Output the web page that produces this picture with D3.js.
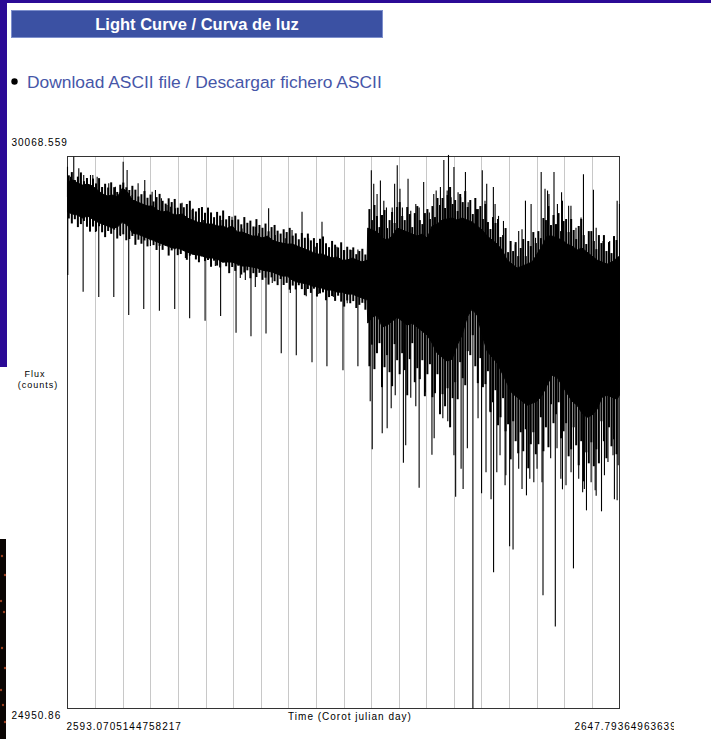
<!DOCTYPE html>
<html>
<head>
<meta charset="utf-8">
<script src="https://cdn.jsdelivr.net/npm/d3@7"></script>
<style>
  html, body { margin: 0; padding: 0; background: #fff; }
  svg { display: block; }
</style>
</head>
<body>
<svg id="chart" width="711" height="739"></svg>
<script>
// ---------------- DATA ----------------
const timeStart = 2593.0705144758217;
const timeEnd = 2647.793649636396;
const fluxMin = 24950.86;
const fluxMax = 30068.559;
const timeStartLabel = "2593.0705144758217";
const timeEndLabel = "2647.793649636396";
const fluxMaxLabel = "30068.559";
const fluxMinLabel = "24950.86";
const gridDivisions = 20;

// solid core of the light curve (upper / lower envelope)
const coreTime = [2593.07,2593.57,2594.06,2594.56,2595.05,2595.55,2596.04,2596.54,2597.03,2597.53,
  2598.02,2598.52,2599.01,2599.51,2600.00,2600.50,2600.99,2601.49,2601.98,2602.48,
  2602.97,2603.47,2603.96,2604.46,2604.95,2605.45,2605.94,2606.44,2606.93,2607.43,
  2607.93,2608.42,2608.92,2609.41,2609.91,2610.40,2610.90,2611.39,2611.89,2612.38,
  2612.88,2613.37,2613.87,2614.36,2614.86,2615.35,2615.85,2616.34,2616.84,2617.33,
  2617.83,2618.32,2618.82,2619.32,2619.81,2620.31,2620.80,2621.30,2621.79,2622.29,
  2622.78,2622.83,
  2623.28,2623.78,2624.27,2624.77,2625.26,2625.76,2626.25,2626.75,2627.24,2627.74,
  2628.23,2628.73,2629.22,2629.72,2630.21,2630.71,2631.20,2631.70,2632.19,2632.69,
  2633.18,2633.68,2634.18,2634.67,2635.17,2635.66,2636.16,2636.65,2637.15,2637.64,
  2638.14,2638.63,2639.13,2639.62,2640.12,2640.61,2641.11,2641.60,2642.10,2642.59,
  2643.09,2643.58,2644.08,2644.57,2645.07,2645.57,2646.06,2646.56,2647.05,2647.55,
  2647.79];
const coreHigh = [29832,29851,29823,29804,29813,29795,29758,29721,29702,29711,
  29693,29776,29739,29665,29646,29628,29609,29609,29572,29554,
  29563,29535,29526,29535,29498,29479,29461,29452,29442,29442,
  29424,29424,29405,29424,29368,29368,29349,29331,29331,29312,
  29331,29294,29275,29266,29257,29257,29238,29220,29201,29182,
  29164,29164,29145,29127,29136,29108,29108,29127,29108,29090,
  29108,29405,
  29387,29368,29312,29294,29331,29405,29387,29368,29349,29331,
  29349,29312,29424,29442,29479,29489,29498,29479,29498,29479,
  29461,29424,29387,29331,29294,29257,29201,29108,29071,29034,
  29052,29071,29090,29164,29238,29331,29331,29312,29294,29257,
  29238,29201,29219,29182,29145,29108,29090,29071,29090,29127,
  29145];
const coreLow = [29554,29535,29526,29498,29517,29489,29461,29442,29424,29405,
  29414,29461,29433,29359,29349,29331,29312,29294,29275,29257,
  29238,29220,29220,29201,29182,29164,29155,29145,29127,29127,
  29117,29090,29090,29090,29071,29053,29053,29043,29034,29015,
  29006,28997,28978,28960,28960,28923,28904,28895,28886,28867,
  28858,28848,28830,28830,28811,28811,28793,28793,28774,28756,
  28737,28524,
  28579,28598,28487,28505,28542,28579,28542,28505,28524,28487,
  28449,28413,28338,28245,28208,28171,28190,28320,28413,28579,
  28654,28598,28413,28264,28208,28153,28060,27967,27874,27837,
  27800,27763,27781,27800,27856,27948,28041,28023,27948,27874,
  27800,27763,27689,27651,27670,27726,27837,27856,27837,27818,
  27856];

// fast swings that make the ragged edges of the band (time, highest, lowest)
const edgeTime = [2593.2,2593.5,2593.8,2594.1,2594.4,2594.7,2595.0,2595.3,2595.6,2595.9,
  2596.2,2596.5,2596.8,2597.1,2597.4,2597.7,2598.0,2598.3,2598.6,2598.9,
  2599.2,2599.5,2599.8,2600.1,2600.4,2600.7,2601.0,2601.3,2601.6,2601.9,
  2602.2,2602.5,2602.8,2603.1,2603.4,2603.7,2604.0,2604.3,2604.6,2604.9,
  2605.2,2605.5,2605.8,2606.1,2606.4,2606.7,2607.0,2607.3,2607.6,2607.9,
  2608.2,2608.5,2608.8,2609.1,2609.4,2609.7,2610.0,2610.3,2610.6,2610.9,
  2611.2,2611.5,2611.8,2612.1,2612.4,2612.7,2613.0,2613.3,2613.6,2613.9,
  2614.2,2614.5,2614.8,2615.1,2615.4,2615.7,2616.0,2616.3,2616.6,2616.9,
  2617.2,2617.5,2617.8,2618.1,2618.4,2618.7,2619.0,2619.3,2619.6,2619.9,
  2620.2,2620.5,2620.8,2621.1,2621.4,2621.7,2622.0,2622.3,2622.6,
  2623.00,2623.25,2623.50,2623.75,2624.00,2624.25,2624.50,2624.75,2625.00,2625.25,
  2625.50,2625.75,2626.00,2626.25,2626.50,2626.75,2627.00,2627.25,2627.50,2627.75,
  2628.00,2628.25,2628.50,2628.75,2629.00,2629.25,2629.50,2629.75,2630.00,2630.25,
  2630.50,2630.75,2631.00,2631.25,2631.50,2631.75,2632.00,2632.25,2632.50,2632.75,
  2633.00,2633.25,2633.50,2633.75,2634.00,2634.25,2634.50,2634.75,2635.00,2635.25,
  2635.50,2635.75,2636.00,2636.25,2636.50,2636.75,2637.00,2637.25,2637.50,2637.75,
  2638.00,2638.25,2638.50,2638.75,2639.00,2639.25,2639.50,2639.75,2640.00,2640.25,
  2640.50,2640.75,2641.00,2641.25,2641.50,2641.75,2642.00,2642.25,2642.50,2642.75,
  2643.00,2643.25,2643.50,2643.75,2644.00,2644.25,2644.50,2644.75,2645.00,2645.25,
  2645.50,2645.75,2646.00,2646.25,2646.50,2646.75,2647.00,2647.25,2647.50];
const edgeHigh = [29894,29924,29851,29882,29921,29840,29869,29806,29864,29819,
  29868,29786,29816,29781,29829,29784,29740,29807,29827,29783,
  29758,29797,29761,29698,29719,29748,29686,29716,29652,29692,
  29722,29658,29632,29681,29646,29675,29594,29634,29598,29628,
  29658,29585,29559,29590,29600,29547,29595,29550,29506,29555,
  29520,29568,29486,29517,29481,29520,29485,29440,29507,29454,
  29474,29420,29488,29434,29408,29447,29375,29414,29434,29381,
  29354,29394,29368,29407,29335,29356,29301,29359,29315,29354,
  29291,29312,29267,29306,29327,29264,29228,29286,29251,29225,
  29273,29201,29232,29205,29226,29163,29192,29213,29160,
  29581,29479,29619,29517,29414,29526,29572,29405,29479,29554,
  29452,29600,29646,29517,29479,29600,29535,29414,29544,29609,
  29479,29442,29544,29581,29489,29609,29507,29684,29619,29684,
  29591,29711,29786,29628,29665,29563,29721,29646,29748,29600,
  29665,29535,29684,29581,29609,29489,29628,29461,29396,29507,
  29452,29489,29322,29340,29405,29182,29285,29192,29275,29145,
  29220,29303,29145,29285,29238,29368,29266,29377,29312,29498,
  29479,29609,29433,29526,29442,29544,29377,29470,29489,29368,
  29489,29387,29303,29424,29489,29340,29257,29377,29377,29285,
  29210,29340,29266,29340,29192,29275,29173,29331,29294];
const edgeLow = [29494,29448,29487,29414,29442,29471,29417,29372,29419,29374,
  29422,29366,29321,29378,29352,29390,29308,29336,29347,29292,
  29303,29332,29250,29297,29260,29290,29235,29292,29247,29202,
  29240,29203,29242,29150,29198,29209,29154,29165,29202,29111,
  29149,29160,29114,29088,29144,29099,29109,29046,29103,29057,
  29040,29087,29051,28987,29044,29008,29056,28974,28993,29013,
  28940,28987,28951,28990,28925,28945,28881,28948,28912,28876,
  28933,28877,28897,28834,28872,28836,28875,28839,28783,28840,
  28804,28843,28770,28799,28809,28736,28765,28775,28730,28778,
  28723,28677,28734,28708,28728,28664,28693,28712,28648,
  28124,28324,28097,28245,28338,27930,28115,28227,28069,27939,
  28329,28180,28050,28245,28088,27855,28190,28338,27976,28106,
  28004,28180,27846,28050,28143,27837,27874,28050,27679,27865,
  27753,27920,27558,27828,27976,27818,28162,28013,27948,28264,
  28227,28412,28124,27967,28199,27930,27958,28078,27698,27790,
  27902,27577,27651,27828,27521,27586,27261,27614,27429,27317,
  27512,27336,27540,27178,27401,27512,27308,27401,27651,27336,
  27558,27373,27772,27596,27679,27790,27456,27521,27596,27289,
  27354,27558,27391,27206,27429,27057,27326,27224,27419,27197,
  27354,27224,27614,27429,27271,27558,27382,27447,27308];

// isolated upward excursions (time, flux)
const upSpikeTime = [2593.07,2593.37,2593.69,2594.19,2594.68,2595.02,2595.35,2595.58,2596.01,2596.51,
  2597.16,2597.82,2598.59,2598.98,2599.48,2599.74,2600.07,2600.73,2601.46,2601.79,
  2602.38,2602.94,2603.27,2603.77,2604.43,2605.42,2605.75,2606.57,2607.56,2608.39,
  2609.38,2610.37,2611.69,2612.02,2613.01,2613.67,2614.66,2615.33,2616.32,2616.97,
  2617.63,2618.30,2619.29,2619.78,2620.43,2621.27,2621.86,
  2623.19,2623.43,2623.76,2624.09,2624.43,2624.69,2625.26,2625.50,2625.76,2626.03,
  2626.27,2626.83,2627.10,2627.60,2627.93,2628.38,2628.94,2629.38,2629.62,2630.04,
  2630.38,2630.71,2630.84,2631.10,2631.38,2631.79,2632.05,2632.52,2632.79,2633.62,
  2634.19,2634.46,2634.63,2635.29,2635.46,2635.80,2636.29,2637.46,2637.80,2638.13,
  2638.47,2639.03,2639.47,2640.03,2640.41,2640.66,2640.80,2641.30,2641.64,2642.05,
  2642.14,2642.75,2642.98,2643.48,2643.98,2644.22,2645.21,2645.48,2646.16,2646.82,
  2647.56,2647.79];
const upSpikeFlux = [29974,29881,30067,29959,29897,29851,29897,29897,29881,29776,
  29820,29788,30020,29943,29711,29665,29820,29851,29742,29758,
  29681,29619,29603,29588,29640,29572,29510,29479,29464,29479,
  29510,29402,29417,29356,29588,29340,29310,29387,29557,29310,
  29232,29464,29217,29232,29201,29201,29207,
  29941,29816,29722,29847,29659,29596,29596,29816,29988,29769,
  29596,29863,29566,29628,29596,29832,29550,29722,29753,29785,
  30035,29753,30083,29691,29972,29737,29691,29926,29644,29581,
  29941,29659,29816,29785,29628,29518,29471,29252,29377,29393,
  29659,29628,29315,29926,29769,29753,29721,29926,29628,29737,
  29659,29612,29612,29409,29503,29904,29760,29409,29285,29285,
  29659,29628];

// isolated downward excursions (time, flux)
const downSpikeTime = [2593.10,2594.62,2596.17,2597.66,2599.14,2600.63,2602.18,2603.70,2605.18,2606.71,
  2608.25,2609.78,2611.26,2612.75,2614.26,2615.75,2617.31,2618.79,2620.38,2621.86,
  2595.84,2598.32,2601.29,2604.76,2607.73,2610.20,2610.70,2611.69,2613.37,2615.16,
  2616.74,2617.93,2619.42,2620.80,2622.58,
  2623.28,2624.27,2624.76,2626.37,2626.60,2627.93,2629.20,2630.28,2631.55,2632.29,
  2633.26,2634.12,2635.06,2635.31,2636.45,2636.90,2637.24,2638.57,2639.30,2640.21,
  2641.43,2642.14,2643.23,2644.14,2644.52,2645.38,2646.01,2647.29,2647.56,
  2623.08,2625.16,2625.56,2627.10,2627.60,2628.53,2629.42,2630.77,2631.38,2632.09,
  2632.71,2633.77,2634.56,2634.96,2635.63,2635.95,2636.53,2637.80,2638.13,2638.90,
  2639.62,2640.11,2640.97,2641.60,2641.98,2642.49,2642.99,2643.75,2644.31,2644.98,
  2645.48,2646.30,2646.65,2647.15,2647.66];
const downSpikeFlux = [28969,28814,28765,28765,28598,28654,28638,28654,28570,28545,
  28589,28434,28403,28428,28245,28227,28162,28124,28088,28124,
  29368,29331,29238,29127,29053,28941,28923,28858,28895,28802,
  28774,28793,28765,28709,28709,
  27354,27503,27549,27229,27391,26997,27303,27642,26914,26986,
  24951,26946,26890,26213,27020,26454,26426,26927,27048,26000,
  25712,26983,26250,26955,26788,26974,26779,26890,26881,
  27800,27735,27855,27831,27753,27883,27456,27614,27299,27173,
  27364,27642,27141,27707,27141,27299,27113,27173,26986,27080,
  27173,27048,27271,27364,27080,27020,27141,27080,26986,27048,
  26923,27113,27236,27299,27206];

// ---------------- DRAW ----------------
const svg = d3.select("#chart");
const FONT = "'Liberation Sans', Arial, Helvetica, sans-serif";

svg.append("rect").attr("x", 0).attr("y", 0).attr("width", 711).attr("height", 739).attr("fill", "#fff");

// page decorations
svg.append("rect").attr("x", 0).attr("y", 0).attr("width", 711).attr("height", 3).attr("fill", "#2b0a96");
svg.append("rect").attr("x", 0).attr("y", 0).attr("width", 7).attr("height", 367).attr("fill", "#2b0a96");
svg.append("rect").attr("x", 0).attr("y", 539).attr("width", 6).attr("height", 200).attr("fill", "#0a0503");
const glowDots = [[2,556],[5,575],[1,601],[4,612],[2,648],[5,668],[1,690],[3,705],[5,722]];
svg.selectAll("circle.glow").data(glowDots).enter().append("circle")
  .attr("cx", d => d[0]).attr("cy", d => d[1]).attr("r", 1.2).attr("fill", "#c0502a").attr("opacity", 0.8);

// header
svg.append("rect").attr("x", 11.5).attr("y", 10.5).attr("width", 371).attr("height", 27)
  .attr("fill", "#3b51a3").attr("stroke", "#7d8fcc").attr("stroke-width", 1);
svg.append("text").attr("x", 197).attr("y", 29.5).attr("text-anchor", "middle")
  .attr("font-family", FONT).attr("font-weight", "bold").attr("font-size", "16.5px").attr("fill", "#fff")
  .text("Light Curve / Curva de luz");

// link line
svg.append("circle").attr("cx", 14.5).attr("cy", 81.5).attr("r", 3.2).attr("fill", "#000");
svg.append("text").attr("x", 27).attr("y", 87.5)
  .attr("font-family", FONT).attr("font-size", "17.4px").attr("fill", "#4656a8")
  .text("Download ASCII file / Descargar fichero ASCII");

// scales
const x = d3.scaleLinear().domain([timeStart, timeEnd]).range([67.5, 619.5]);
const y = d3.scaleLinear().domain([fluxMin, fluxMax]).range([708.5, 156.5]);

// grid
const gridVals = d3.range(1, gridDivisions).map(k => timeStart + k * (timeEnd - timeStart) / gridDivisions);
svg.append("g").selectAll("line").data(gridVals).enter().append("line")
  .attr("x1", d => Math.round(x(d)) + 0.5).attr("x2", d => Math.round(x(d)) + 0.5)
  .attr("y1", y(fluxMax)).attr("y2", y(fluxMin))
  .attr("stroke", "#c8c8c8").attr("stroke-width", 1);

// frame
svg.append("rect").attr("x", x(timeStart)).attr("y", y(fluxMax))
  .attr("width", x(timeEnd) - x(timeStart)).attr("height", y(fluxMin) - y(fluxMax))
  .attr("fill", "none").attr("stroke", "#333").attr("stroke-width", 1);

// light curve core
const core = coreTime.map((t, i) => ({t, hi: coreHigh[i], lo: coreLow[i]}));
const area = d3.area().x(d => x(d.t)).y0(d => y(d.lo)).y1(d => y(d.hi));
svg.append("path").datum(core).attr("d", area)
  .attr("fill", "#000").attr("stroke", "#000").attr("stroke-width", 1);

// ragged edges: each swing from its highest to lowest value
const edges = edgeTime.map((t, i) => ({t, hi: edgeHigh[i], lo: edgeLow[i]}));
svg.append("g").selectAll("line").data(edges).enter().append("line")
  .attr("x1", d => x(d.t)).attr("x2", d => x(d.t))
  .attr("y1", d => y(d.hi)).attr("y2", d => y(d.lo))
  .attr("stroke", "#000").attr("stroke-width", 2);

// isolated spikes, anchored to the middle of the core
const mid = d3.scaleLinear().domain(coreTime).range(core.map(d => (d.hi + d.lo) / 2));
const spikes = upSpikeTime.map((t, i) => ({t, f: upSpikeFlux[i]}))
  .concat(downSpikeTime.map((t, i) => ({t, f: downSpikeFlux[i]})));
svg.append("g").selectAll("line").data(spikes).enter().append("line")
  .attr("x1", d => x(d.t)).attr("x2", d => x(d.t))
  .attr("y1", d => y(d.f)).attr("y2", d => y(mid(d.t)))
  .attr("stroke", "#000").attr("stroke-width", 1.1);

// labels
const small = (sel) => sel.attr("font-family", FONT).attr("font-size", "10px")
  .attr("letter-spacing", "1px").attr("fill", "#000");
small(svg.append("text").attr("x", 11.5).attr("y", 145.5).text(fluxMaxLabel));
small(svg.append("text").attr("x", 11.5).attr("y", 719).text(fluxMinLabel));
small(svg.append("text").attr("x", 66.5).attr("y", 730).text(timeStartLabel));
svg.append("clipPath").attr("id", "pageclip").append("rect").attr("x", 0).attr("y", 0).attr("width", 674).attr("height", 739);
small(svg.append("text").attr("x", 574.5).attr("y", 730).attr("clip-path", "url(#pageclip)").text(timeEndLabel));
small(svg.append("text").attr("x", 350).attr("y", 720).attr("text-anchor", "middle")
  .attr("letter-spacing", "0.8px").text("Time (Corot julian day)"));
const fl = svg.append("text").attr("font-family", FONT).attr("font-size", "9px").attr("letter-spacing", "1px")
  .attr("text-anchor", "middle").attr("fill", "#000");
fl.append("tspan").attr("x", 35).attr("y", 376.5).text("Flux");
fl.append("tspan").attr("x", 38).attr("y", 388).text("(counts)");
</script>
</body>
</html>
